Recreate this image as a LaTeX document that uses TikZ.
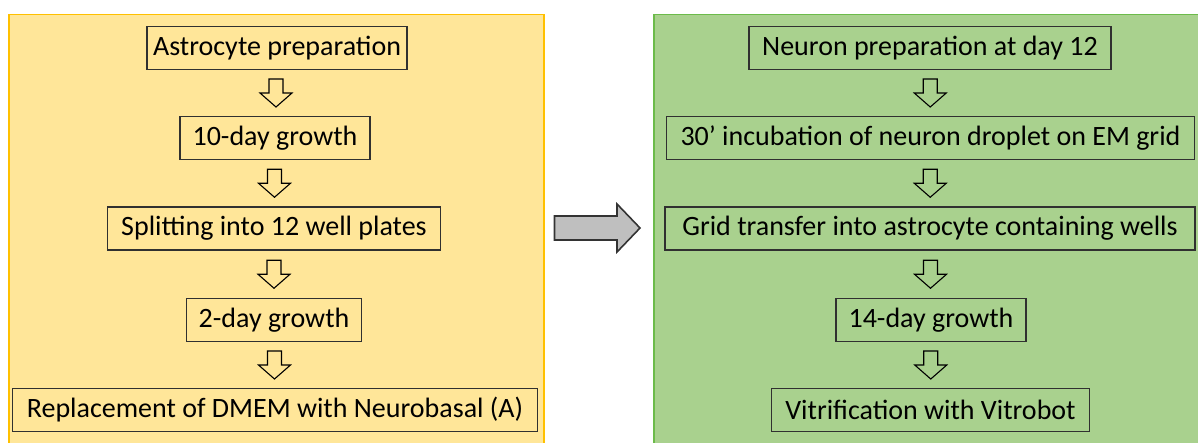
\documentclass[tikz,border=0pt]{standalone}
\usepackage{fontspec}
\setmainfont{Carlito}
\usetikzlibrary{calc}
\definecolor{yfill}{HTML}{FFE699}
\definecolor{yborder}{HTML}{FFC000}
\definecolor{gfill}{HTML}{A9D18E}
\definecolor{gborder}{HTML}{6CBB4A}
\definecolor{boxline}{HTML}{303030}
\definecolor{grayarrow}{HTML}{BFBFBF}
\tikzset{
  panel/.style={draw, line width=1.5pt, anchor=north west, inner sep=0pt},
  stepbox/.style={draw=boxline, line width=1.2pt, minimum height=43pt, inner sep=0pt, font=\fontsize{28}{31}\selectfont},
  hollow/.style={draw=black, line width=1.1pt, line join=miter},
  bigarrow/.style={draw=black!80, fill=grayarrow, line width=1.6pt, line join=miter},
}
\newcommand\hollowdown[2]{%
  \path (#1.south) -- (#2.north) coordinate[pos=0.5] (mid-#1);
  \draw[hollow] ($(mid-#1)+(-7,-14)$) -- ($(mid-#1)+(7,-14)$) -- ($(mid-#1)+(7,0)$) -- ($(mid-#1)+(16,0)$) -- ($(mid-#1)+(0,14)$) -- ($(mid-#1)+(-16,0)$) -- ($(mid-#1)+(-7,0)$) -- cycle;}
\begin{document}
\begin{tikzpicture}[x=1pt,y=-1pt]
\useasboundingbox (0,0) rectangle (1198,442);
\clip (0,0) rectangle (1198,442);
% panels
\node[panel, draw=yborder, fill=yfill, minimum width=535pt, minimum height=450pt] (lp) at (8,13.5) {};
\node[panel, draw=gborder, fill=gfill, minimum width=560pt, minimum height=450pt] (rp) at (653,13.5) {};
% left boxes
\node[stepbox, minimum width=260pt] (l1) at (277,48) {Astrocyte preparation};
\node[stepbox, minimum width=190pt] (l2) at (275,138) {10-day growth};
\node[stepbox, minimum width=333pt] (l3) at (274,228.5) {Splitting into 12 well plates};
\node[stepbox, minimum width=175pt] (l4) at (274,320) {2-day growth};
\node[stepbox, minimum width=525pt] (l5) at (275,410) {Replacement of DMEM with Neurobasal (A)};
% right boxes
\node[stepbox, minimum width=362pt] (r1) at (930,48) {Neuron preparation at day 12};
\node[stepbox, minimum width=528pt] (r2) at (930.5,138) {30’ incubation of neuron droplet on EM grid};
\node[stepbox, minimum width=530pt] (r3) at (930,228.5) {Grid transfer into astrocyte containing wells};
\node[stepbox, minimum width=190pt] (r4) at (931,320) {14-day growth};
\node[stepbox, minimum width=318pt] (r5) at (930.5,410) {Vitrification with Vitrobot};
% hollow arrows
\hollowdown{l1}{l2}
\hollowdown{l2}{l3}
\hollowdown{l3}{l4}
\hollowdown{l4}{l5}
\hollowdown{r1}{r2}
\hollowdown{r2}{r3}
\hollowdown{r3}{r4}
\hollowdown{r4}{r5}
% big gray arrow between panels
\coordinate (ga) at ($(lp.north east)+(10,214.5)$);
\coordinate (gb) at ($(rp.north west)+(-13,214.5)$);
\draw[bigarrow] ($(ga)+(0,-12)$) -- ($(gb)+(-23,-12)$) -- ($(gb)+(-23,-24)$) -- (gb) -- ($(gb)+(-23,24)$) -- ($(gb)+(-23,12)$) -- ($(ga)+(0,12)$) -- cycle;
\end{tikzpicture}
\end{document}
